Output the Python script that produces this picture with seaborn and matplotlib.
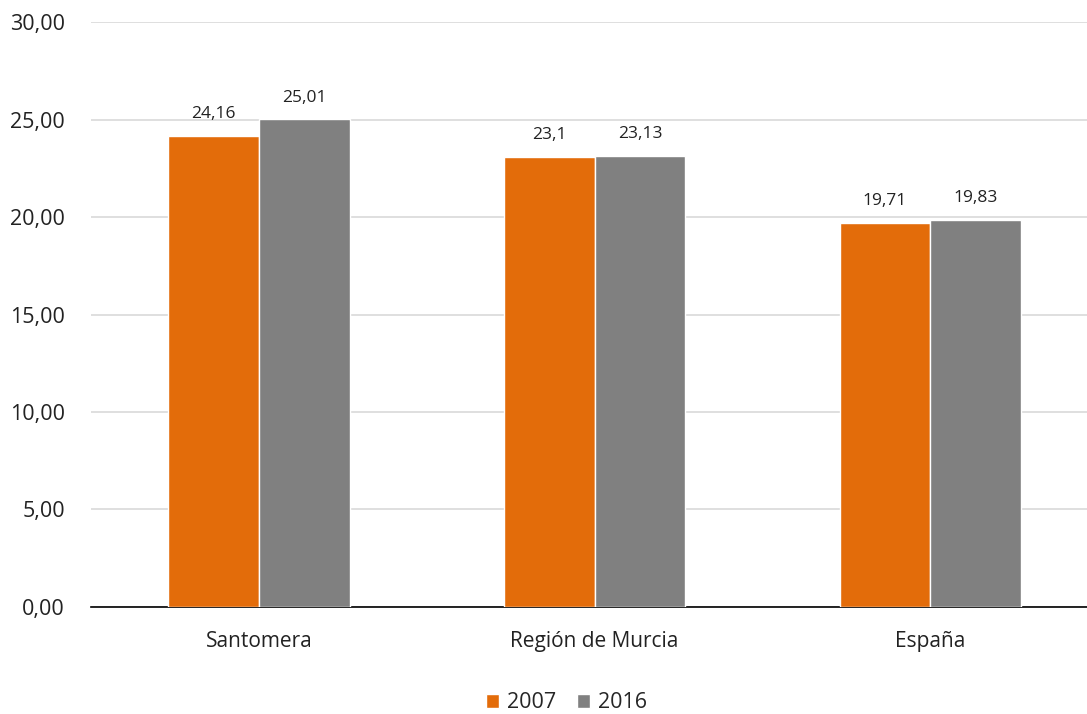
import matplotlib
matplotlib.use("Agg")
import matplotlib.pyplot as plt
import seaborn as sns
import pandas as pd

categories = ["Santomera", "Región de Murcia", "España"]
years = ["2007", "2016"]
values_2007 = [24.16, 23.1, 19.71]
values_2016 = [25.01, 23.13, 19.83]
labels_2007 = ["24,16", "23,1", "19,71"]
labels_2016 = ["25,01", "23,13", "19,83"]
yticks = [0, 5, 10, 15, 20, 25, 30]
ytick_labels = ["0,00", "5,00", "10,00", "15,00", "20,00", "25,00", "30,00"]

df = pd.DataFrame({
    "cat": categories * 2,
    "year": [years[0]] * 3 + [years[1]] * 3,
    "val": values_2007 + values_2016,
})

sns.set_theme(style="white")
plt.rcParams["font.family"] = ["Open Sans", "DejaVu Sans"]

fig = plt.figure(figsize=(10.87, 7.14), dpi=100)
ax = fig.add_axes([0.084, 0.150, 0.926, 0.819])
sns.barplot(data=df, x="cat", y="val", hue="year", palette=["#E36C0A", "#808080"],
            width=0.54, saturation=1, ax=ax, legend=True, zorder=3)

ax.set_ylim(0, 30)
ax.set_yticks(yticks)
ax.set_yticklabels(ytick_labels, fontsize=15.5, color="#222222")
ax.tick_params(axis="x", labelsize=15, colors="#222222", length=0, pad=17)
ax.tick_params(axis="y", length=0, pad=19)
ax.yaxis.grid(True, color="#d9d9d9", linewidth=1.2, zorder=0)
ax.set_axisbelow(True)
for s in ["top", "right", "left"]:
    ax.spines[s].set_visible(False)
ax.spines["bottom"].set_color("#000000")
ax.spines["bottom"].set_linewidth(1.2)
ax.set_xlabel("")
ax.set_ylabel("")
ax.set_xlim(-0.5, 2.5)

for cont, labs in zip(ax.containers, [labels_2007, labels_2016]):
    ax.bar_label(cont, labels=labs, padding=10, fontsize=12.5, color="#222222")

leg = ax.legend(loc="center", bbox_to_anchor=(0.472, -0.164), ncol=2, frameon=False,
                fontsize=15.5, handlelength=0.6, handleheight=0.6, handletextpad=0.35,
                columnspacing=1.0)

fig.savefig("out.png", dpi=100)
